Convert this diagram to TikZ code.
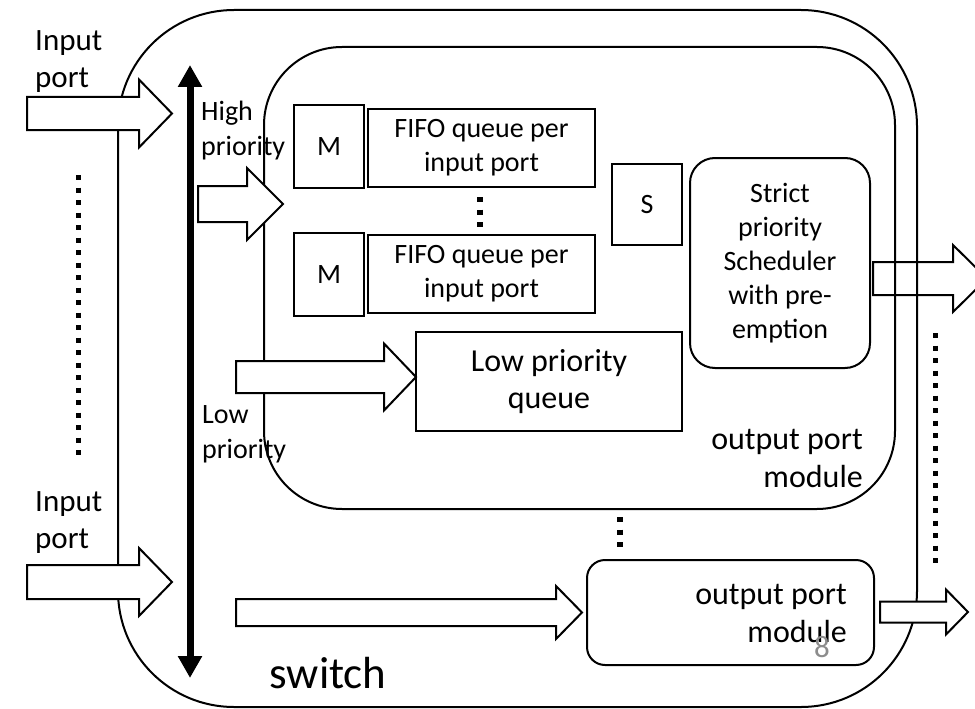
\documentclass[tikz,border=0pt]{standalone}
\usepackage{fontspec}
\setmainfont{Carlito}
\usetikzlibrary{arrows.meta}
\tikzset{
  frame/.style={draw, line width=2pt, inner sep=0pt},
  box/.style={draw, line width=2pt, inner sep=0pt, align=center, font=\fontsize{28}{34}\selectfont},
  bigbox/.style={draw, line width=2pt, inner sep=0pt, align=center, font=\fontsize{32}{37}\selectfont},
  blk/.style={draw, line width=2pt, fill=white, line join=miter},
  dotline/.style={line width=5pt, dash pattern=on 5pt off 7.5pt, line cap=butt},
  small/.style={inner sep=0pt, font=\fontsize{28}{35}\selectfont},
  large/.style={inner sep=0pt, font=\fontsize{31}{37}\selectfont},
  modtext/.style={inner sep=0pt, align=right, font=\fontsize{32}{38}\selectfont}
}
% #1 x start, #2 head base x, #3 tip x, #4 centre y, #5 shaft half height, #6 head half height
\newcommand{\blockarrowshape}[6]{%
  \draw[blk] (#1,{#4-#5}) -- (#2,{#4-#5}) -- (#2,{#4-#6}) -- (#3,#4) -- (#2,{#4+#6}) -- (#2,{#4+#5}) -- (#1,{#4+#5}) -- cycle;}
\begin{document}
\begin{tikzpicture}[x=1pt,y=-1pt]
\useasboundingbox (0,0) rectangle (975,709);
\clip (0,0) rectangle (975,709);
% output arrow of the scheduler (the borders pass over it)
\blockarrowshape{873}{953}{987}{278.5}{16.5}{33.5}
% switch and output port module
\node[frame, rounded corners=116pt, minimum width=799pt, minimum height=697pt] (switch) at (517.5,358.5) {};
\node[frame, rounded corners=78pt, minimum width=631pt, minimum height=462pt] (opm) at (579.5,278) {};
% queues
\node[box, minimum width=70pt, minimum height=83pt] (m1) at (329,146.5) {M};
\node[box, minimum width=227pt, minimum height=78pt] (fifo1) at (481.5,148) {FIFO queue per\\input port};
\node[box, minimum width=70pt, minimum height=83pt] (m2) at (329,274.5) {M};
\node[box, minimum width=227pt, minimum height=78pt] (fifo2) at (481.5,274) {FIFO queue per\\input port};
\node[box, minimum width=70pt, minimum height=81pt] (s) at (647,204.5) {S};
\node[box, rounded corners=25pt, minimum width=180pt, minimum height=210pt] (sched) at (780,263) {Strict\\priority\\Scheduler\\with pre-\\emption};
\node[bigbox, minimum width=266pt, minimum height=99pt] (lowq) at (549,381.5) {Low priority\\queue};
\node[frame, rounded corners=18pt, minimum width=287pt, minimum height=105pt] (opm2) at (730.5,612.5) {};
% dots
\draw[dotline] (78,175) -- (78,462);
\draw[dotline] (935,333) -- (935,565);
\draw[line width=6pt, dash pattern=on 5pt off 7.5pt] (480,197) -- (480,228);
\draw[line width=6pt, dash pattern=on 5pt off 7.5pt] (620,517) -- (620,548);
% block arrows
\blockarrowshape{27}{139}{172}{113.5}{16.5}{34}
\blockarrowshape{27}{139}{172}{582}{17}{34}
\blockarrowshape{198}{247}{283}{204}{18}{36}
\blockarrowshape{236}{384}{416}{377}{16}{33.5}
\blockarrowshape{236}{556}{582}{612.5}{13.5}{26.5}
\blockarrowshape{880}{946}{968}{612}{10.5}{22.5}
% priority bus
\coordinate (bustop) at (190,65);
\coordinate (busbot) at (190,678);
\draw[line width=7pt, {Triangle[width=23pt,length=22pt]}-{Triangle[width=23pt,length=22pt]}] (bustop) -- (busbot);
% labels
\node[large, align=left, anchor=west] (in1) at (35,61.5) {Input\\port};
\node[large, align=left, anchor=west] (in2) at (35,523) {Input\\port};
\node[small, align=left, anchor=west] (hp) at (201,130.5) {High\\priority};
\node[small, align=left, anchor=west] (lp) at (202,434.5) {Low\\priority};
\node[modtext, anchor=east] (opmtext) at (863,458.5) {output port\\module};
\node[modtext, anchor=east] (opm2text) at (847,613) {output port\\module};
\node[inner sep=0pt, text=black!45, font=\fontsize{31}{31}\selectfont] (pagenum) at (822,647) {8};
\node[inner sep=0pt, anchor=base, font=\fontsize{45}{45}\selectfont] (sw) at (328,688) {switch};
\end{tikzpicture}
\end{document}
